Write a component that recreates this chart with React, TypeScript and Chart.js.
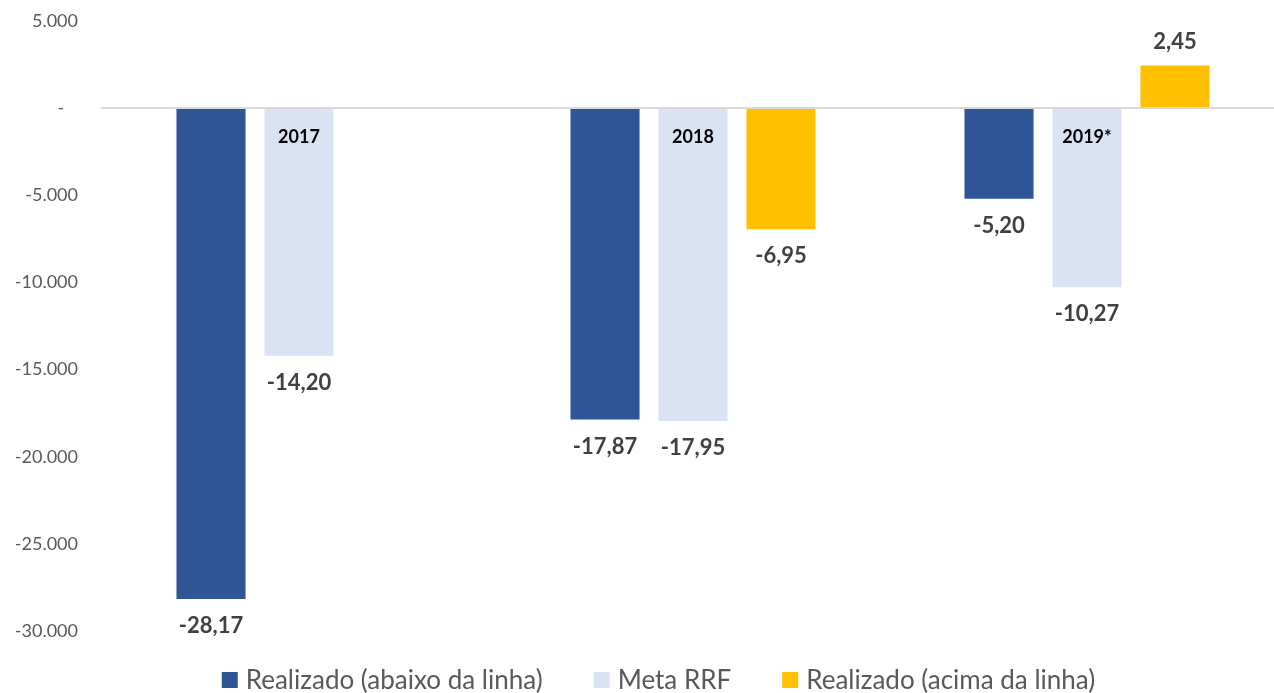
import React, { useEffect, useRef } from "react";
import { Chart, registerables } from "chart.js";

Chart.register(...registerables);

const categories = ["2017", "2018", "2019*"];
const realizadoAbaixo = [-28170, -17870, -5200];
const metaRRF = [-14200, -17950, -10270];
const realizadoAcima = [null, -6950, 2450];
const seriesLabels = ["Realizado (abaixo da linha)", "Meta RRF", "Realizado (acima da linha)"];
const seriesColors = ["#2F5597", "#DAE3F3", "#FFC000"];
const yMin = -30000;
const yMax = 5000;
const yStep = 5000;

const FONT = "Lato, 'Open Sans', sans-serif";

function fmtThousands(v: number): string {
  if (v === 0) return "-   ";
  const s = Math.abs(v).toString().replace(/\B(?=(\d{3})+(?!\d))/g, ".");
  return (v < 0 ? "-" : "") + s;
}

function fmtLabel(v: number): string {
  return (v / 1000).toFixed(2).replace(".", ",");
}

const dataLabelPlugin = {
  id: "dataLabels",
  afterDatasetsDraw(chart: any) {
    const ctx = chart.ctx;
    ctx.save();
    ctx.font = `bold 22px ${FONT}`;
    ctx.fillStyle = "#404040";
    ctx.textAlign = "center";
    ctx.textBaseline = "middle";
    chart.data.datasets.forEach((ds: any, di: number) => {
      const meta = chart.getDatasetMeta(di);
      meta.data.forEach((bar: any, i: number) => {
        const v = ds.data[i];
        if (v === null || v === undefined) return;
        const y = v < 0 ? bar.y + 27 : bar.y - 24;
        ctx.fillText(fmtLabel(v), bar.x, y);
      });
    });
    ctx.restore();
  },
};

const legendPlugin = {
  id: "customLegend",
  afterDraw(chart: any) {
    const ctx = chart.ctx;
    ctx.save();
    ctx.font = `26px ${FONT}`;
    const box = 16;
    const gapText = 8;
    const gapItem = 51;
    const items = chart.data.datasets.map((ds: any) => ({
      text: ds.label,
      color: ds.backgroundColor,
      w: ctx.measureText(ds.label).width,
    }));
    const total =
      items.reduce((s: number, it: any) => s + box + gapText + it.w, 0) +
      gapItem * (items.length - 1);
    let x = 658.5 - total / 2;
    const cy = 680;
    ctx.textBaseline = "middle";
    ctx.textAlign = "left";
    items.forEach((it: any) => {
      ctx.fillStyle = it.color;
      ctx.fillRect(x, cy - box / 2, box, box);
      x += box + gapText;
      ctx.fillStyle = "#595959";
      ctx.fillText(it.text, x, cy + 1);
      x += it.w + gapItem;
    });
    ctx.restore();
  },
};

export default function App() {
  const canvasRef = useRef<HTMLCanvasElement | null>(null);

  useEffect(() => {
    if (!canvasRef.current) return;
    const chart = new Chart(canvasRef.current, {
      type: "bar",
      data: {
        labels: categories,
        datasets: [
          { label: seriesLabels[0], data: realizadoAbaixo, backgroundColor: seriesColors[0] },
          { label: seriesLabels[1], data: metaRRF, backgroundColor: seriesColors[1] },
          { label: seriesLabels[2], data: realizadoAcima as any, backgroundColor: seriesColors[2] },
        ],
      },
      options: {
        animation: false,
        responsive: false,
        maintainAspectRatio: false,
        devicePixelRatio: 1,
        datasets: {
          bar: { categoryPercentage: 0.67, barPercentage: 0.785 },
        },
        layout: { padding: { top: 21, bottom: 62, left: 0, right: 0 } },
        plugins: {
          legend: { display: false },
          tooltip: { enabled: false },
        },
        scales: {
          x: {
            type: "category",
            position: { y: 0 } as any,
            grid: { display: false, drawTicks: false },
            border: { display: true, color: "#D9D9D9", width: 2, z: 1 },
            ticks: {
              z: 1,
              padding: 18,
              color: "#000000",
              font: { family: FONT, size: 18, weight: "bold" },
              maxRotation: 0,
            },
            afterFit: (scale: any) => {
              scale.height = 0;
              scale.paddingTop = 0;
              scale.paddingBottom = 0;
              scale.paddingLeft = 0;
              scale.paddingRight = 0;
            },
          },
          y: {
            type: "linear",
            min: yMin,
            max: yMax,
            grid: { display: false, drawTicks: false },
            border: { display: false },
            ticks: {
              stepSize: yStep,
              padding: 24,
              color: "#595959",
              font: { family: FONT, size: 18 },
              callback: (v: any) => fmtThousands(Number(v)),
            },
            afterFit: (scale: any) => {
              scale.width = 102;
              scale.paddingTop = 0;
              scale.paddingBottom = 0;
            },
          },
        },
      },
      plugins: [dataLabelPlugin, legendPlugin],
    });
    return () => chart.destroy();
  }, []);

  return (
    <div
      style={{
        position: "absolute",
        left: 0,
        top: 0,
        width: 1274,
        height: 693,
        overflow: "hidden",
        background: "#ffffff",
      }}
    >
      <canvas ref={canvasRef} width={1284} height={693} style={{ display: "block" }} />
    </div>
  );
}
